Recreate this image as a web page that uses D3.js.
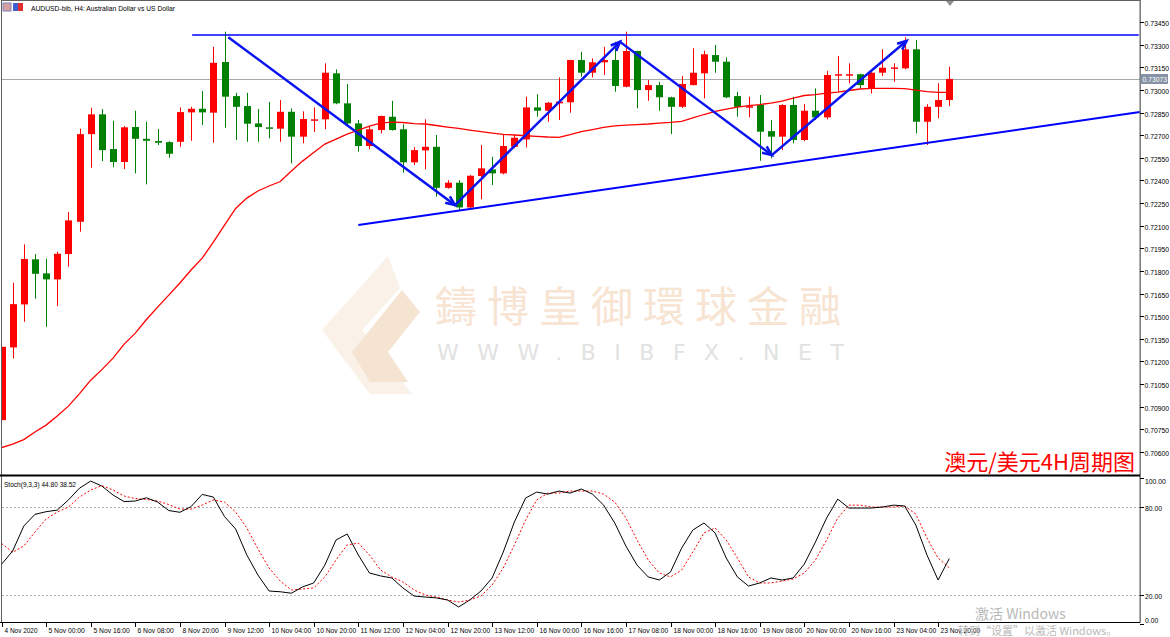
<!DOCTYPE html>
<meta charset="utf-8">
<style>
body { margin: 0; background: #fff; }
svg { display: block; font-family: "Liberation Sans", Arial, sans-serif; }
.tick-label { font-size: 8px; fill: #000; }
.price-label { font-size: 6.8px; fill: #000; }
</style>
<svg width="1170" height="637"></svg>
<script src="https://cdn.jsdelivr.net/npm/d3@7/dist/d3.min.js"></script>
<script>

// AUDUSD H4 candles (bar 0 = 4 Nov 08:00)
var opens = [0.70811,0.71293,0.71578,0.71877,0.71784,0.71744,0.71912,0.72126,0.72707,0.72838,
  0.72608,0.72522,0.72754,0.72676,0.72661,0.72654,0.72656,0.72851,0.72875,0.72849,
  0.73185,0.72959,0.72893,0.72778,0.72752,0.72743,0.72855,0.72690,0.72800,0.72805,
  0.73110,0.72911,0.72778,0.72628,0.72734,0.72822,0.72739,0.72520,0.72599,0.72623,
  0.72351,0.72385,0.72221,0.72429,0.72473,0.72447,0.72623,0.72672,0.72884,0.72862,
  0.72911,0.72918,0.73198,0.73114,0.73183,0.73198,0.73021,0.73258,0.72999,0.73032,
  0.72951,0.72888,0.73032,0.73110,0.73231,0.73187,0.72959,0.72888,0.72900,0.72727,
  0.72690,0.72900,0.72668,0.72862,0.72818,0.73099,0.73100,0.73104,0.73010,0.73114,
  0.73145,0.73143,0.73269,0.72789,0.72888,0.72933];
var highs = [0.71297,0.71722,0.71976,0.71912,0.71881,0.71927,0.72190,0.72743,0.72882,0.72873,
  0.72796,0.72760,0.72862,0.72789,0.72741,0.72660,0.72884,0.72888,0.72993,0.73286,
  0.73386,0.72981,0.72981,0.72873,0.72920,0.72933,0.72878,0.72858,0.72884,0.73176,
  0.73136,0.73039,0.72800,0.72756,0.72830,0.72928,0.72772,0.72621,0.72805,0.72701,
  0.72402,0.72402,0.72435,0.72635,0.72557,0.72701,0.72701,0.72955,0.72971,0.72920,
  0.73083,0.73200,0.73253,0.73209,0.73286,0.73319,0.73386,0.73260,0.73065,0.73054,
  0.72955,0.73092,0.73276,0.73260,0.73298,0.73216,0.72988,0.72955,0.72966,0.72800,
  0.72905,0.72955,0.72906,0.73010,0.73127,0.73225,0.73176,0.73107,0.73118,0.73269,
  0.73176,0.73349,0.73331,0.72905,0.73044,0.73154];
var lows = [0.70811,0.71220,0.71463,0.71616,0.71430,0.71567,0.71828,0.72060,0.72484,0.72528,
  0.72487,0.72475,0.72447,0.72374,0.72635,0.72550,0.72623,0.72663,0.72767,0.72650,
  0.72749,0.72668,0.72656,0.72656,0.72679,0.72656,0.72513,0.72646,0.72721,0.72739,
  0.72905,0.72770,0.72590,0.72606,0.72712,0.72730,0.72451,0.72502,0.72473,0.72292,
  0.72345,0.72199,0.72215,0.72275,0.72369,0.72440,0.72613,0.72619,0.72822,0.72789,
  0.72800,0.72849,0.73087,0.73083,0.73099,0.72988,0.73017,0.72878,0.72928,0.72862,
  0.72707,0.72880,0.73030,0.72944,0.73114,0.72945,0.72822,0.72818,0.72530,0.72546,
  0.72601,0.72646,0.72660,0.72800,0.72805,0.72988,0.73044,0.73010,0.72977,0.73092,
  0.73054,0.73136,0.72712,0.72635,0.72812,0.72893];
var closes = [0.71297,0.71580,0.71879,0.71781,0.71744,0.71914,0.72135,0.72707,0.72838,0.72601,
  0.72522,0.72752,0.72676,0.72663,0.72650,0.72577,0.72853,0.72875,0.72851,0.73180,
  0.72955,0.72888,0.72776,0.72754,0.72743,0.72855,0.72690,0.72807,0.72805,0.73114,
  0.72911,0.72778,0.72628,0.72739,0.72827,0.72734,0.72520,0.72601,0.72623,0.72351,
  0.72385,0.72221,0.72431,0.72480,0.72447,0.72628,0.72683,0.72884,0.72862,0.72915,
  0.72922,0.73198,0.73114,0.73183,0.73198,0.73026,0.73258,0.72999,0.73032,0.72951,
  0.72888,0.73039,0.73114,0.73236,0.73187,0.72951,0.72888,0.72892,0.72723,0.72690,
  0.72900,0.72668,0.72862,0.72818,0.73099,0.73104,0.73104,0.73032,0.73114,0.73147,
  0.73149,0.73269,0.72789,0.72888,0.72933,0.73073];

// red moving average as drawn
var maValues = [0.70629,0.70652,0.70682,0.70732,0.70778,0.70838,0.70904,0.70987,0.71076,0.71146,
  0.71222,0.71315,0.71388,0.71478,0.71560,0.71640,0.71720,0.71806,0.71885,0.71991,
  0.72104,0.72214,0.72283,0.72330,0.72363,0.72393,0.72462,0.72528,0.72585,0.72641,
  0.72674,0.72707,0.72734,0.72760,0.72780,0.72787,0.72784,0.72777,0.72774,0.72764,
  0.72754,0.72745,0.72734,0.72724,0.72714,0.72705,0.72701,0.72696,0.72692,0.72688,
  0.72686,0.72704,0.72724,0.72737,0.72751,0.72762,0.72767,0.72770,0.72774,0.72780,
  0.72785,0.72792,0.72814,0.72837,0.72857,0.72873,0.72886,0.72896,0.72903,0.72913,
  0.72926,0.72946,0.72963,0.72969,0.72979,0.72986,0.72996,0.73006,0.73010,0.73010,
  0.73010,0.73009,0.72999,0.72989,0.72984,0.72984];

// Stoch(9,3,3)
var stochK = [40.9,50.0,67.0,75.0,76.8,77.9,84.8,92.9,97.7,94.3,
  88.2,83.7,84.1,86.3,83.4,77.6,76.4,80.3,88.6,86.8,
  73.5,65.0,47.3,33.6,22.7,22.2,21.2,25.5,28.2,40.4,
  57.5,61.6,47.3,35.0,33.0,31.6,24.8,19.3,18.6,18.0,
  16.6,11.8,16.6,22.7,31.6,49.3,69.8,86.1,90.2,88.8,
  90.9,89.5,92.3,88.8,81.3,69.1,53.4,40.4,32.3,30.2,
  35.7,52.0,64.3,69.1,62.3,45.2,32.3,26.1,28.2,31.6,
  30.2,31.6,41.1,56.1,72.5,85.4,79.3,79.3,79.3,80.0,
  81.3,80.7,67.7,47.3,30.2,44.8];
var stochD = [55.2,49.1,53.4,62.9,71.8,76.6,80.0,86.8,91.6,94.6,
  91.6,87.5,85.8,85.1,84.1,81.7,78.6,78.6,81.3,84.8,
  83.4,76.6,65.7,51.4,38.4,29.5,23.4,24.1,24.8,32.3,
  43.9,54.1,55.4,47.3,37.0,32.3,28.9,23.4,20.0,18.6,
  16.6,15.2,16.6,19.3,26.8,38.4,54.1,71.1,84.8,89.5,
  89.5,90.9,90.9,90.9,88.8,83.4,72.5,57.5,43.9,35.0,
  32.3,37.0,49.3,62.3,65.7,57.5,45.2,32.3,28.2,28.2,
  29.5,30.9,35.0,43.9,57.5,72.5,81.3,81.3,80.0,80.0,
  80.0,80.7,75.2,58.9,45.2,38.52];

var priceTicks = [0.73450,0.73300,0.73150,0.73000,0.72850,0.72700,0.72550,0.72400,0.72250,0.72100,
  0.71950,0.71800,0.71650,0.71500,0.71350,0.71200,0.71050,0.70900,0.70750,0.70600];
var stochTicks = [100, 80, 20, 0];
var timeLabels = ["4 Nov 2020","5 Nov 00:00","5 Nov 16:00","6 Nov 08:00","8 Nov 20:00","9 Nov 12:00",
  "10 Nov 04:00","10 Nov 20:00","11 Nov 12:00","12 Nov 04:00","12 Nov 20:00","13 Nov 12:00",
  "16 Nov 00:00","16 Nov 16:00","17 Nov 08:00","18 Nov 00:00","18 Nov 16:00","19 Nov 08:00",
  "20 Nov 00:00","20 Nov 16:00","23 Nov 04:00","23 Nov 20:00"];
var labelEvery = 4;
var lastPrice = 0.73073;

// hand drawn objects: [bar, price]
var resistanceLine = [[17.1, 0.73364], [102, 0.73364]];
var supportLine = [[32.0, 0.72104], [102.1, 0.72853]];
var zigzag = [[20.34, 0.73349], [40.67, 0.72237], [55.47, 0.73319], [69.08, 0.72568], [81.18, 0.73326]];

var svg = d3.select("svg");
var plotLeft = 2, plotRight = 1140;
var mainTop = 1, mainBottom = 474, stochTop = 477, stochBottom = 622;

var x = d3.scaleLinear().domain([0, 102]).range([1.5, 1.5 + 102 * 11.15]);
var y = d3.scaleLinear().domain([0.70454, 0.73596]).range([474, 0]);
var ys = d3.scaleLinear().domain([0, 100]).range([624.3, 477.7]);

svg.append("defs").append("clipPath").attr("id", "mainClip")
  .append("rect").attr("x", plotLeft).attr("y", mainTop).attr("width", plotRight - plotLeft).attr("height", mainBottom - mainTop);
svg.select("defs").append("clipPath").attr("id", "stochClip")
  .append("rect").attr("x", plotLeft).attr("y", stochTop).attr("width", plotRight - plotLeft).attr("height", stochBottom - stochTop);

// watermark
var wm = svg.append("g");
wm.append("path")
  .attr("d", "M388,256 L322,330 L370,394 L412,394 L362,330 L400,288 Z")
  .attr("fill", "#faf1e9");
wm.append("path")
  .attr("d", "M402,290 L420,312 L388,352 L408,382 L370,382 L352,352 Z")
  .attr("fill", "#f6e4d3");
wm.append("text").attr("x", 435).attr("y", 322)
  .style("font-family", "'Noto Sans CJK TC', sans-serif").style("font-size", "42px")
  .style("letter-spacing", "10px").attr("fill", "#f7e4d3").text("鑄博皇御環球金融");
wm.append("text").attr("x", 437).attr("y", 360)
  .style("font-family", "'DejaVu Sans', sans-serif").style("font-size", "22px")
  .style("letter-spacing", "18.5px").attr("fill", "#e2e2e2").text("WWW.BIBFX.NET");

var main = svg.append("g").attr("clip-path", "url(#mainClip)");

main.append("line")
  .attr("x1", plotLeft).attr("x2", plotRight)
  .attr("y1", Math.round(y(lastPrice)) + 0.5).attr("y2", Math.round(y(lastPrice)) + 0.5)
  .attr("stroke", "#a8a8a8").attr("stroke-width", 1);

var bars = d3.range(opens.length);

main.selectAll(".wick").data(bars).enter().append("line")
  .attr("x1", function(i) { return Math.round(x(i)) + 0.5; })
  .attr("x2", function(i) { return Math.round(x(i)) + 0.5; })
  .attr("y1", function(i) { return y(highs[i]); })
  .attr("y2", function(i) { return y(lows[i]); })
  .attr("stroke", function(i) { return closes[i] >= opens[i] ? "#ff0000" : "#008000"; })
  .attr("stroke-width", 1);

main.selectAll(".body").data(bars).enter().append("rect")
  .attr("x", function(i) { return Math.round(x(i)) - 3; })
  .attr("width", 7)
  .attr("y", function(i) { return y(Math.max(opens[i], closes[i])); })
  .attr("height", function(i) { return Math.max(1.5, Math.abs(y(opens[i]) - y(closes[i]))); })
  .attr("fill", function(i) { return closes[i] >= opens[i] ? "#ff0000" : "#008000"; });

main.append("path")
  .datum(maValues)
  .attr("fill", "none").attr("stroke", "#ff0000").attr("stroke-width", 1.3)
  .attr("d", d3.line().x(function(d, i) { return x(i); }).y(function(d) { return y(d); }));

var lineXY = d3.line().x(function(d) { return x(d[0]); }).y(function(d) { return y(d[1]); });

main.append("path").datum(resistanceLine)
  .attr("fill", "none").attr("stroke", "#0000ff").attr("stroke-width", 1.5).attr("d", lineXY);
main.append("path").datum(supportLine)
  .attr("fill", "none").attr("stroke", "#0000ff").attr("stroke-width", 2).attr("d", lineXY);
main.append("path").datum(zigzag)
  .attr("fill", "none").attr("stroke", "#0a14f0").attr("stroke-width", 2.5).attr("d", lineXY);

// arrow heads on each zigzag leg
for (var k = 1; k < zigzag.length; k++) {
  var x0 = x(zigzag[k - 1][0]), y0 = y(zigzag[k - 1][1]);
  var x1 = x(zigzag[k][0]), y1 = y(zigzag[k][1]);
  var a = Math.atan2(y1 - y0, x1 - x0), len = 10, spread = 0.4;
  main.append("path")
    .attr("d", "M" + (x1 - len * Math.cos(a - spread)) + "," + (y1 - len * Math.sin(a - spread)) +
      " L" + x1 + "," + y1 +
      " L" + (x1 - len * Math.cos(a + spread)) + "," + (y1 - len * Math.sin(a + spread)))
    .attr("fill", "none").attr("stroke", "#0a14f0").attr("stroke-width", 2.5);
}

// stochastic panel
var stoch = svg.append("g").attr("clip-path", "url(#stochClip)");
[80, 20].forEach(function(v) {
  stoch.append("line").attr("x1", plotLeft).attr("x2", plotRight)
    .attr("y1", Math.round(ys(v)) + 0.5).attr("y2", Math.round(ys(v)) + 0.5)
    .attr("stroke", "#b4b4b4").attr("stroke-dasharray", "2,2");
});
var stochLine = d3.line().x(function(d, i) { return x(i); }).y(function(d) { return ys(d); });
stoch.append("path").datum(stochD)
  .attr("fill", "none").attr("stroke", "#ff0000").attr("stroke-dasharray", "2,2").attr("d", stochLine);
stoch.append("path").datum(stochK)
  .attr("fill", "none").attr("stroke", "#000").attr("stroke-width", 1).attr("d", stochLine);

// frame
svg.append("rect").attr("x", 1.5).attr("y", 0.5).attr("width", plotRight - 1.5).attr("height", stochBottom)
  .attr("fill", "none").attr("stroke", "#606060");
svg.append("line").attr("x1", 0).attr("x2", plotRight).attr("y1", 475.5).attr("y2", 475.5)
  .attr("stroke", "#000").attr("stroke-width", 2);
svg.append("line").attr("x1", plotRight + 0.5).attr("x2", plotRight + 0.5).attr("y1", 0).attr("y2", stochBottom)
  .attr("stroke", "#808080");
svg.append("line").attr("x1", 0).attr("x2", plotRight).attr("y1", stochBottom + 0.5).attr("y2", stochBottom + 0.5)
  .attr("stroke", "#000");

// price axis
var pAxis = svg.append("g");
priceTicks.forEach(function(p) {
  var yy = Math.round(y(p)) + 0.5;
  pAxis.append("line").attr("x1", plotRight).attr("x2", plotRight + 4).attr("y1", yy).attr("y2", yy).attr("stroke", "#000");
  pAxis.append("text").attr("class", "price-label").attr("x", plotRight + 4.5).attr("y", yy + 3)
    .text(p.toFixed(5));
});
var lp = Math.round(y(lastPrice));
pAxis.append("rect").attr("x", plotRight + 1).attr("y", lp - 5).attr("width", 27).attr("height", 10).attr("fill", "#8592a6");
pAxis.append("text").attr("class", "price-label").attr("x", plotRight + 2.5).attr("y", lp + 3)
  .style("fill", "#fff").text(lastPrice.toFixed(5));

var sAxis = svg.append("g");
stochTicks.forEach(function(v) {
  var yy = Math.round(ys(v)) + 0.5;
  var ty = v === 100 ? 481 + 3 : v === 0 ? 620 + 3 : yy + 3;
  sAxis.append("line").attr("x1", plotRight).attr("x2", plotRight + 4).attr("y1", yy).attr("y2", yy).attr("stroke", "#000");
  sAxis.append("text").attr("class", "price-label").attr("x", plotRight + 5).attr("y", ty).text(v.toFixed(2));
});

// time axis
var tAxis = svg.append("g");
timeLabels.forEach(function(t, k) {
  var xx = Math.round(x(k * labelEvery)) + 0.5;
  tAxis.append("line").attr("x1", xx).attr("x2", xx).attr("y1", stochBottom).attr("y2", stochBottom + 5).attr("stroke", "#000");
  tAxis.append("text").attr("class", "tick-label").attr("x", xx + 2).attr("y", 633)
    .attr("textLength", t.length * 3.3).attr("lengthAdjust", "spacingAndGlyphs").text(t);
});

// header texts
svg.append("rect").attr("x", 3).attr("y", 3).attr("width", 8).attr("height", 8).attr("fill", "#d9a0a0").attr("stroke", "#8080c0");
svg.append("rect").attr("x", 13).attr("y", 3).attr("width", 10).attr("height", 8).attr("fill", "#4060d0");
svg.append("rect").attr("x", 18).attr("y", 3).attr("width", 5).attr("height", 8).attr("fill", "#e03030");
svg.append("text").attr("class", "tick-label").attr("x", 31).attr("y", 11)
  .attr("textLength", 144).attr("lengthAdjust", "spacingAndGlyphs")
  .text("AUDUSD-bib, H4:  Australian Dollar vs US Dollar");
svg.append("text").attr("class", "tick-label").attr("x", 4).attr("y", 487)
  .attr("textLength", 72).attr("lengthAdjust", "spacingAndGlyphs")
  .text("Stoch(9,3,3) 44.80 38.52");
svg.append("path").attr("d", "M946,1 L954,1 L950,6 Z").attr("fill", "#909090");

svg.append("text").attr("x", 1135).attr("y", 470).attr("text-anchor", "end")
  .style("font-family", "'Noto Sans CJK SC', sans-serif").style("font-size", "22px")
  .attr("fill", "#ff0000").text("澳元/美元4H周期图");

// windows activation overlay
svg.append("text").attr("x", 975).attr("y", 619)
  .style("font-family", "'Noto Sans CJK SC', sans-serif").style("font-size", "14px")
  .attr("fill", "#b8b8b8").text("激活 Windows");
svg.append("text").attr("x", 958).attr("y", 635)
  .style("font-family", "'Noto Sans CJK SC', sans-serif").style("font-size", "11px")
  .attr("fill", "#b8b8b8").text("转到\u201c设置\u201d以激活 Windows。");

</script>
